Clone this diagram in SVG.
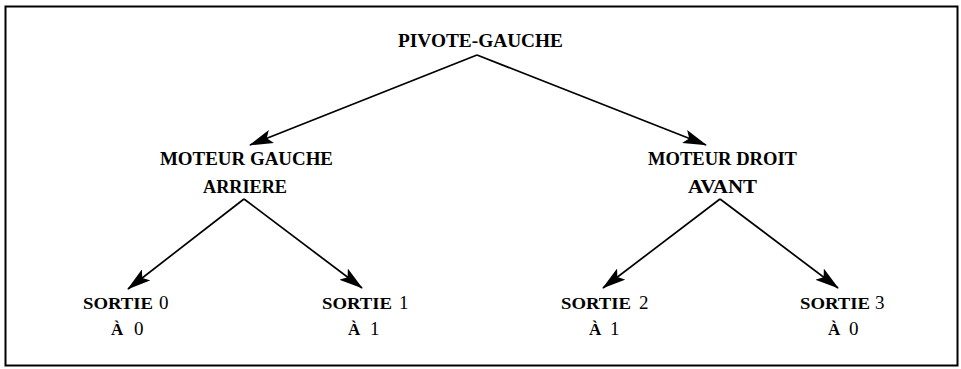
<svg xmlns="http://www.w3.org/2000/svg" width="961" height="369" viewBox="0 0 961 369">
<style>
text{font-family:"Liberation Serif","Times New Roman",serif;fill:#000}
.t{font-size:18px;font-weight:bold}
.s{font-size:16px;font-weight:bold}
.a{font-size:17px;font-weight:bold}
.d{font-size:19px}
.e{stroke:#000;stroke-width:1.7;fill:none}
</style>
<defs>
<marker id="ah" viewBox="0 0 24 14" refX="23" refY="7" markerWidth="24" markerHeight="14" markerUnits="userSpaceOnUse" orient="auto">
<path d="M0,0 L24,7 L0,14 L5,7 Z" fill="#000"/>
</marker>
</defs>
<rect x="5.5" y="6.5" width="952" height="359" fill="#fff" stroke="#000" stroke-width="2"/>
<g id="connectors">
<path class="e" d="M477,55 L250,145" marker-end="url(#ah)"/>
<path class="e" d="M477,55 L706,145" marker-end="url(#ah)"/>
<path class="e" d="M244,199 L128,289" marker-end="url(#ah)"/>
<path class="e" d="M244,199 L362,288" marker-end="url(#ah)"/>
<path class="e" d="M720,199 L603,288" marker-end="url(#ah)"/>
<path class="e" d="M720,199 L838,288" marker-end="url(#ah)"/>
</g>
<g id="root"><text class="t" x="398" y="47" textLength="165" lengthAdjust="spacingAndGlyphs" style="font-size:19.5px">PIVOTE-GAUCHE</text></g>
<g id="gauche"><text class="t" x="160" y="165" textLength="173" lengthAdjust="spacingAndGlyphs">MOTEUR GAUCHE</text><text class="t" x="203" y="193" textLength="84" lengthAdjust="spacingAndGlyphs">ARRIERE</text></g>
<g id="droit"><text class="t" x="648" y="165" textLength="149" lengthAdjust="spacingAndGlyphs">MOTEUR DROIT</text><text class="t" x="688" y="193" textLength="69" lengthAdjust="spacingAndGlyphs">AVANT</text></g>
<g id="s0"><text class="s" x="83" y="309" textLength="70" lengthAdjust="spacingAndGlyphs">SORTIE</text><text class="d" x="159" y="309">0</text><text class="a" x="111" y="335">À</text><text class="d" x="134" y="335">0</text></g>
<g id="s1"><text class="s" x="322" y="309" textLength="70" lengthAdjust="spacingAndGlyphs">SORTIE</text><text class="d" x="399" y="309">1</text><text class="a" x="348" y="335">À</text><text class="d" x="370" y="335">1</text></g>
<g id="s2"><text class="s" x="561" y="309" textLength="70" lengthAdjust="spacingAndGlyphs">SORTIE</text><text class="d" x="639" y="309">2</text><text class="a" x="589" y="335">À</text><text class="d" x="610" y="335">1</text></g>
<g id="s3"><text class="s" x="800" y="309" textLength="70" lengthAdjust="spacingAndGlyphs">SORTIE</text><text class="d" x="875" y="309">3</text><text class="a" x="828" y="335">À</text><text class="d" x="849" y="335">0</text></g>
</svg>
